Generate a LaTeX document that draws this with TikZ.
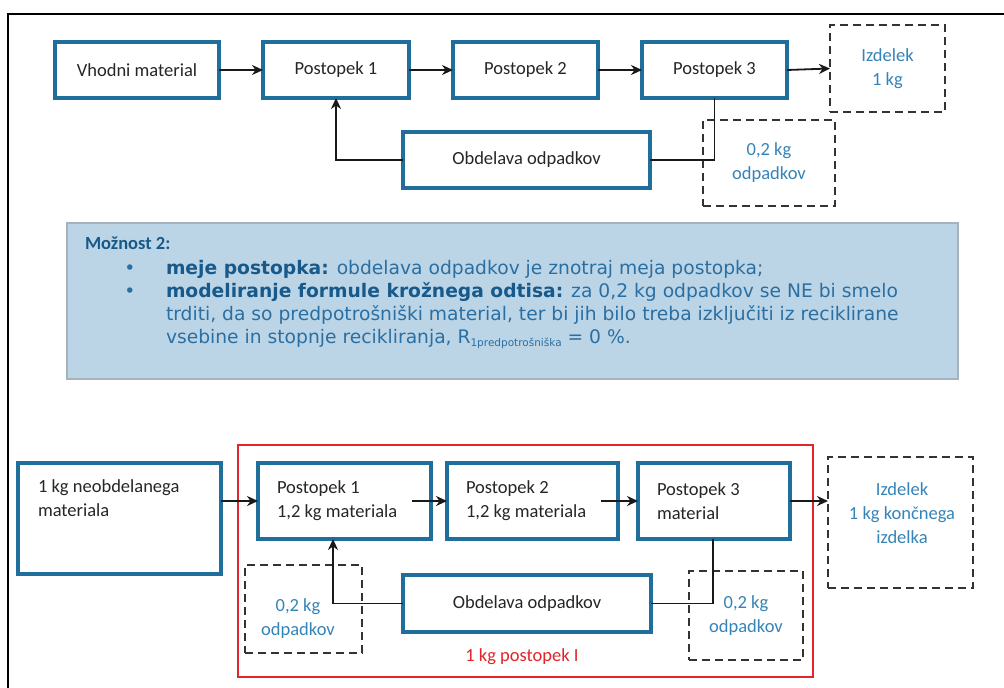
\documentclass[tikz,border=0pt]{standalone}
\usepackage{fontspec}
\setmainfont{Carlito}
\newfontfamily\verd{DejaVu Sans}
\usetikzlibrary{arrows.meta}
\definecolor{boxblue}{HTML}{1F6E9B}
\definecolor{txtblue}{HTML}{3584B8}
\definecolor{panelfill}{HTML}{BCD5E6}
\definecolor{panelline}{HTML}{A7B3BC}
\definecolor{darkblue}{HTML}{17598A}
\definecolor{midblue}{HTML}{2A6FA3}
\definecolor{redline}{HTML}{E0262A}
\definecolor{ink}{HTML}{262626}
\begin{document}
\begin{tikzpicture}[x=1pt,y=-1pt,
  every node/.style={font=\fontsize{18.5}{24}\selectfont, inner sep=0pt, outer sep=0pt, text=ink},
  procbox/.style={draw=boxblue, line width=3.2pt, fill=white, align=center},
  wastebox/.style={draw=black!80, dash pattern=on 8pt off 5pt, line width=1.8pt, text=txtblue, align=center},
  flow/.style={line width=1.8pt, draw=black!90},
  arr/.style={flow, -{Stealth[length=11pt,width=10pt]}},
  paneltext/.style={font=\verd\fontsize{18.7}{23}\selectfont, text=midblue, anchor=base west},
]
\useasboundingbox (0,0) rectangle (1004,688);
\fill[white] (0,0) rectangle (1004,688);
% outer frame (top and left edges)
\draw[line width=2pt, black] (8,688) -- (8,14) -- (1004,14);

% ---------- upper flow ----------
\node[procbox, minimum width=164, minimum height=56] (v1) at (137,70) {Vhodni material};
\node[procbox, minimum width=146, minimum height=56] (p1) at (336,70) {Postopek 1};
\node[procbox, minimum width=145, minimum height=56] (p2) at (525.5,70) {Postopek 2};
\node[procbox, minimum width=145, minimum height=56] (p3) at (714.5,70) {Postopek 3};
\node[wastebox, minimum width=115, minimum height=87] (iz1) at (887.5,68.5) {Izdelek\\1 kg};
\node[wastebox, minimum width=132, minimum height=86] (w1) at (769,163) {0,2 kg\\odpadkov};
\node[procbox, minimum width=247, minimum height=56] (ob1) at (526.5,160) {Obdelava odpadkov};

\draw[arr] (v1.east) -- (p1.west);
\draw[arr] (p1.east) -- (p2.west);
\draw[arr] (p2.east) -- (p3.west);
\draw[arr] (p3.east) -- (iz1.west);
\draw[arr] (ob1.west) -| (p1.south);
\draw[flow] (p3.south) |- (ob1.east);

% ---------- note panel ----------
\node[draw=panelline, fill=panelfill, line width=1.5pt, minimum width=891, minimum height=156] (panel) at (512.5,301) {};
\node[font=\bfseries\fontsize{18.5}{24}\selectfont, text=darkblue, anchor=base west] (title) at (85,249) {Možnost 2:};
\node[font=\verd\fontsize{18.7}{23}\selectfont, text=midblue, anchor=base] (b1) at (130,274) {•};
\node[font=\verd\fontsize{18.7}{23}\selectfont, text=midblue, anchor=base] (b2) at (130,297) {•};
\node[paneltext] (l1) at (166,274) {{\bfseries\color{darkblue}meje postopka:} obdelava odpadkov je znotraj meja postopka;};
\node[paneltext] (l2) at (166,297) {{\bfseries\color{darkblue}modeliranje formule krožnega odtisa:} za 0,2 kg odpadkov se NE bi smelo};
\node[paneltext] (l3) at (166,320) {trditi, da so predpotrošniški material, ter bi jih bilo treba izključiti iz reciklirane};
\node[paneltext] (l4) at (166,343) {vsebine in stopnje recikliranja, R\raisebox{-3pt}{\fontsize{10.5}{12}\selectfont 1predpotrošniška} = 0 \%.};

% ---------- lower flow ----------
\node[draw=redline, line width=2pt, minimum width=575, minimum height=232] (frame) at (525.5,561) {};
\node[text=redline, anchor=center] (flabel) at (522,657) {1 kg postopek I};

\node[procbox, minimum width=203, minimum height=111] (k1) at (119.5,518.5) {};
\node[anchor=base west] (k1t) at (38,492) {1 kg neobdelanega};
\node[anchor=base west] (k1u) at (38,516) {materiala};

\node[procbox, align=flush left, text width=135, minimum width=173, minimum height=76] (q1) at (344.5,501) {Postopek 1\\1,2 kg materiala};
\node[procbox, align=flush left, text width=133, minimum width=171, minimum height=76] (q2) at (532.5,501) {Postopek 2\\1,2 kg materiala};
\node[procbox, align=flush left, text width=114, minimum width=152, minimum height=76] (q3) at (714,501) {Postopek 3\\material};

\node[wastebox, minimum width=145, minimum height=131] (iz2) at (900.5,522.5) {};
\node[text=txtblue, align=center] (iz2t) at (902,513) {Izdelek\\1 kg končnega\\izdelka};

\node[wastebox, minimum width=117, minimum height=88] (wl) at (303.5,609) {};
\node[text=txtblue, align=center] (wlt) at (298,619) {0,2 kg\\odpadkov};
\node[wastebox, minimum width=114, minimum height=89] (wr) at (746,615.5) {0,2 kg\\odpadkov};

\node[procbox, minimum width=248, minimum height=57] (ob2) at (527,603.5) {Obdelava odpadkov};

\draw[arr] (k1.east |- q1.west) -- (q1.west);
\draw[arr] ([xshift=-19pt]q1.east) -- (q2.west);
\draw[arr] ([xshift=-17pt]q2.east) -- (q3.west);
\draw[arr] (q3.east) -- (q3.east -| iz2.west);
\draw[arr] (ob2.west) -| ([xshift=-11.5pt]q1.south);
\draw[flow] ([xshift=-1pt]q3.south) |- (ob2.east);
\end{tikzpicture}
\end{document}
